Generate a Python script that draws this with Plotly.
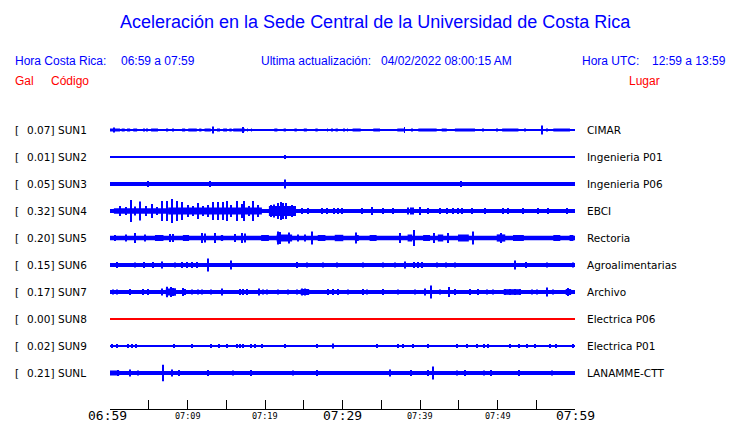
import plotly.graph_objects as go

# ---------------- data ----------------
stations = ["SUN1", "SUN2", "SUN3", "SUN4", "SUN5", "SUN6", "SUN7", "SUN8", "SUN9", "SUNL"]
places = ["CIMAR", "Ingenieria P01", "Ingenieria P06", "EBCI", "Rectoria",
          "Agroalimentarias", "Archivo", "Electrica P06", "Electrica P01", "LANAMME-CTT"]
peak_gal = [0.07, 0.01, 0.05, 0.32, 0.20, 0.15, 0.17, 0.00, 0.02, 0.21]
# steady background noise half-amplitude of each trace (display units)
noise_level = [0.6, 0.6, 2.0, 2.0, 2.3, 2.0, 1.9, 0.6, 0.6, 2.0]

# minutes after 06:59 (Costa Rica time)
tick_minutes = [0, 5, 10, 15, 20, 25, 30, 35, 40, 45, 50, 55, 60]
tick_labels = ["06:59", "", "07:09", "", "07:19", "", "07:29", "", "07:39", "", "07:49", "", "07:59"]
major_labels = ["06:59", "07:29", "07:59"]

# bursts: (start minute, end minute, half amplitude)
bursts_sun1 = [(0.0, 1.3, 1.5), (1.5, 1.9, 1.5), (2.2, 2.6, 1.5), (3.0, 3.5, 1.5), (4.3, 4.5, 1.5),
               (4.7, 4.8, 1.5), (5.3, 6.2, 1.5), (7.3, 7.5, 1.5), (8.1, 8.2, 1.5), (9.3, 9.7, 1.5),
               (10.1, 11.2, 1.5), (11.5, 11.8, 1.5), (12.2, 13.0, 1.5), (13.8, 14.2, 1.5),
               (14.6, 15.1, 1.5), (15.4, 15.7, 1.5), (15.9, 17.4, 1.5), (17.7, 17.8, 1.5),
               (18.2, 18.3, 1.5), (21.2, 21.6, 1.5), (22.4, 22.7, 1.5), (23.8, 24.1, 1.5),
               (25.0, 25.4, 1.5), (26.5, 26.8, 1.5), (28.0, 28.1, 1.5), (28.6, 28.7, 1.5),
               (29.1, 29.4, 1.5), (30.1, 30.2, 1.5), (30.6, 30.7, 1.5), (31.3, 32.35, 1.5),
               (33.97, 34.84, 1.5), (37.07, 38.06, 1.5), (38.9, 39.0, 1.5), (39.78, 42.15, 1.5),
               (42.8, 43.45, 1.5), (44.5, 47.1, 1.5), (48.1, 48.2, 1.5), (49.9, 50.0, 1.5),
               (50.6, 52.7, 1.5), (53.5, 53.6, 1.5), (56.3, 56.4, 1.5), (57.2, 59.35, 1.5)]
spikes_sun1 = [(0.5, 2.5), (13.33, 3.5), (17.2, 3.0), (38.0, 3.0), (55.7, 4.5)]

bursts_sun2 = []
spikes_sun2 = [(22.6, 2.0)]

bursts_sun3 = []
spikes_sun3 = [(4.86, 3.0), (12.95, 3.0), (22.6, 4.5), (45.3, 3.0)]

bursts_sun4 = [(0.5, 7.5, 2.8), (7.5, 19.6, 3.4), (20.5, 24.0, 5.0)]
spikes_sun4 = [(1.29, 5), (2.02, 4), (2.67, 11), (3.23, 4.5), (3.87, 9.5), (4.6, 5), (5.38, 7),
               (6.02, 4), (6.67, 10), (7.31, 10), (8.04, 12), (8.69, 10), (9.33, 9), (10.11, 6),
               (10.75, 5), (11.4, 8), (12.04, 5), (12.6, 6), (13.25, 9), (13.98, 9), (14.62, 9),
               (15.14, 10), (15.61, 6), (16.43, 10), (16.99, 7), (17.33, 10), (17.94, 5),
               (18.49, 10), (19.14, 6), (20.73, 6), (21.2, 6.5), (21.63, 8), (22.06, 9),
               (22.37, 8), (22.71, 8), (23.1, 5), (23.53, 6), (23.87, 4), (24.73, 3), (25.59, 3),
               (27.31, 3), (27.96, 3), (28.95, 3), (29.46, 3), (29.9, 3), (32.47, 3), (33.76, 4),
               (35.27, 3), (36.56, 3), (38.49, 3.5), (38.8, 3.5), (39.14, 3.5), (40.0, 4),
               (41.08, 3), (42.58, 3), (43.44, 3), (44.3, 3), (44.95, 3), (45.38, 3), (46.67, 3),
               (48.39, 3), (50.75, 3), (51.4, 3), (53.33, 3), (55.27, 3), (56.56, 3), (58.92, 3)]

bursts_sun5 = [(5.8, 6.9, 3.0), (9.4, 10.2, 3.0), (14.3, 14.6, 3.0), (19.5, 20.5, 3.0),
               (21.5, 23.5, 3.5), (26.8, 27.8, 3.0), (29.0, 30.1, 3.2), (31.6, 32.1, 3.0),
               (33.5, 34.4, 3.0), (38.4, 39.0, 3.5), (40.4, 41.3, 3.0), (42.3, 43.0, 3.5),
               (44.9, 46.3, 3.5), (49.9, 51.0, 3.6), (52.0, 53.4, 3.0), (57.2, 58.1, 3.0),
               (59.3, 59.8, 3.0)]
spikes_sun5 = [(0.65, 3), (2.02, 3.5), (3.23, 5), (4.52, 3.5), (7.74, 4), (8.17, 4), (11.83, 5),
               (12.26, 4.5), (13.55, 5), (16.13, 4), (16.99, 5), (17.42, 4.5), (21.7, 6.5),
               (21.94, 6), (23.1, 5.5), (24.3, 3.5), (25.16, 3.5), (26.02, 6.5), (31.8, 5.5),
               (37.42, 5), (39.23, 8), (41.81, 5), (43.66, 5), (46.88, 6.5), (50.5, 5)]

bursts_sun6 = []
spikes_sun6 = [(0.86, 3), (3.23, 2.5), (4.43, 3), (5.59, 3), (6.75, 3.5), (8.39, 2.5), (9.33, 3),
               (9.89, 3), (10.54, 3), (11.18, 3), (12.69, 6.5), (15.61, 4.5), (24.09, 3),
               (25.38, 2.5), (27.53, 2.5), (29.25, 2.5), (32.69, 2.5), (35.27, 2.5), (36.77, 2.5),
               (38.06, 3.5), (39.23, 3), (39.78, 3), (40.22, 3), (42.15, 2.5), (43.35, 2.5),
               (44.52, 2.5), (52.22, 4.5), (53.68, 3), (56.34, 2.5), (59.78, 2.5)]

bursts_sun7 = [(7.2, 8.5, 3.5), (24.6, 25.7, 3.0), (50.8, 53.0, 2.8), (58.8, 59.5, 3.0)]
spikes_sun7 = [(0.43, 2.5), (0.86, 2.5), (2.58, 3), (4.3, 3), (4.95, 3), (6.75, 3.5), (7.31, 5.3),
               (7.83, 5), (8.17, 4), (8.39, 3.5), (9.46, 4), (9.68, 3), (10.54, 2.5), (11.4, 2.5),
               (11.83, 2.5), (13.03, 2.5), (14.49, 3.5), (16.77, 3), (17.2, 3), (17.63, 3),
               (19.23, 3.5), (19.78, 2.5), (20.22, 2.5), (21.72, 2.5), (23.01, 2.5), (24.09, 2.5),
               (24.73, 3.5), (25.16, 3.5), (25.59, 3), (28.09, 3), (28.82, 3), (29.46, 3),
               (30.75, 2.5), (32.69, 3), (33.12, 2.5), (35.27, 3), (37.2, 2.5), (39.35, 2.5),
               (40.65, 3.5), (41.38, 6.5), (42.58, 2.5), (43.78, 5), (44.52, 3), (46.45, 3),
               (47.53, 3), (48.6, 2.5), (49.46, 2.5), (50.97, 3), (51.61, 3), (52.26, 3), (52.9, 3),
               (54.41, 2.5), (55.05, 2.5), (56.34, 4.5), (57.2, 2.5), (59.14, 4)]

bursts_sun8 = []
spikes_sun8 = []

bursts_sun9 = []
spikes_sun9 = [(0.22, 2), (0.95, 2), (2.37, 2), (2.88, 2), (3.31, 2), (8.3, 2), (10.54, 2),
               (12.99, 2), (14.11, 2), (15.05, 2), (16.43, 2), (16.77, 2), (17.2, 2), (18.15, 2),
               (18.71, 2), (19.57, 2), (22.58, 2), (26.67, 2), (28.82, 2.5), (34.41, 2), (37.2, 2),
               (37.85, 2), (39.05, 2), (41.08, 2), (44.82, 2), (46.02, 2), (47.31, 2), (48.26, 2),
               (48.82, 2), (51.61, 2), (52.82, 2), (53.85, 2), (54.84, 2), (56.77, 2), (57.55, 2),
               (59.78, 2)]

bursts_sunl = [(0.0, 1.2, 2.5)]
spikes_sunl = [(0.99, 3), (2.58, 3.5), (3.57, 2.5), (6.88, 8.3), (8.04, 3.5), (8.9, 3), (12.69, 3),
               (15.91, 2.5), (18.15, 3), (23.66, 2.5), (26.67, 3), (36.13, 3.5), (38.8, 3),
               (40.99, 3), (41.68, 6.5), (44.73, 2.5), (45.81, 3), (48.26, 2.5), (49.12, 3),
               (52.77, 3), (56.99, 2.5)]

all_bursts = [bursts_sun1, bursts_sun2, bursts_sun3, bursts_sun4, bursts_sun5,
              bursts_sun6, bursts_sun7, bursts_sun8, bursts_sun9, bursts_sunl]
all_spikes = [spikes_sun1, spikes_sun2, spikes_sun3, spikes_sun4, spikes_sun5,
              spikes_sun6, spikes_sun7, spikes_sun8, spikes_sun9, spikes_sunl]

# ---------------- figure ----------------
OFF = 8                      # page margin of the html body
W, H = 740 - OFF, 423 - OFF  # figure size so that it fits the window
ML, MT = 110 - OFF, 100 - OFF
MR = W - (575 - OFF)
MB = H - (409 - OFF)
PW, PH = W - ML - MR, H - MT - MB
SLOT = 27.0
FIRST_Y = 130                # page y of the first trace
SPIKE_W = 0.13
BLUE = "#0000ff"
RED = "#ff0000"
TOTAL = 60
PAD = 2                      # annotation inner padding


def px(xpage):
    return (xpage - OFF - ML) / PW


def py(ypage):
    return (H - MB - (ypage - OFF)) / PH


fig = go.Figure()
for i, st in enumerate(stations):
    c = -SLOT * i
    xs, ws, bs, hs = [TOTAL / 2], [TOTAL], [c - noise_level[i]], [2 * noise_level[i]]
    for (t0, t1, a) in all_bursts[i]:
        xs.append((t0 + t1) / 2); ws.append(t1 - t0); bs.append(c - a); hs.append(2 * a)
    for (t, a) in all_spikes[i]:
        xs.append(t); ws.append(SPIKE_W); bs.append(c - a); hs.append(2 * a)
    color = RED if st == "SUN8" else BLUE
    fig.add_trace(go.Bar(x=xs, y=hs, base=bs, width=ws, marker=dict(color=color, line_width=0),
                         hoverinfo="skip", showlegend=False))

ann = []
head_font = dict(family="Liberation Sans, Arial", size=12, color=BLUE)
ann.append(dict(text="Aceleración en la Sede Central de la Universidad de Costa Rica",
                x=px(375), y=py(22), xanchor="center", yanchor="middle",
                font=dict(family="Liberation Sans, Arial", size=18, color=BLUE)))
for txt, xp in [("Hora Costa Rica:", 15), ("06:59 a 07:59", 121),
                ("Ultima actualización:", 261), ("04/02/2022 08:00:15 AM", 381),
                ("Hora UTC:", 582), ("12:59 a 13:59", 652)]:
    ann.append(dict(text=txt, x=px(xp - PAD), y=py(61), xanchor="left", yanchor="middle",
                    font=head_font))
red_font = dict(family="Liberation Sans, Arial", size=12, color=RED)
for txt, xp in [("Gal", 15), ("Código", 50.5), ("Lugar", 629)]:
    ann.append(dict(text=txt, x=px(xp - PAD), y=py(81), xanchor="left", yanchor="middle",
                    font=red_font))

lab_font = dict(family="DejaVu Sans", size=10.5, color="black")
for i, st in enumerate(stations):
    yc = -SLOT * i
    ann.append(dict(text="[", x=px(15 - PAD), y=yc, yref="y", xanchor="left", yanchor="middle",
                    font=lab_font))
    ann.append(dict(text=f"{peak_gal[i]:.2f}]", x=px(55.5), y=yc, yref="y", xanchor="right",
                    yanchor="middle", font=lab_font))
    ann.append(dict(text=st, x=px(58 - PAD), y=yc, yref="y", xanchor="left", yanchor="middle",
                    font=lab_font))
    ann.append(dict(text=places[i], x=px(587 - PAD), y=yc, yref="y", xanchor="left",
                    yanchor="middle", font=lab_font))

for t, lab in zip(tick_minutes, tick_labels):
    if not lab:
        continue
    big = lab in major_labels
    ann.append(dict(text=lab, x=t, xref="x", y=py(415.5), xanchor="center", yanchor="middle",
                    xshift=-3 if t == tick_minutes[0] else 0,
                    font=dict(family="DejaVu Sans Mono", size=13 if big else 8.5, color="black")))

for a in ann:
    a.setdefault("xref", "paper")
    a.setdefault("yref", "paper")
    a["showarrow"] = False

y_top = FIRST_Y - (MT + OFF)           # data units above first trace (1 unit = 1 px)
y_bottom = -(H - MB + OFF - FIRST_Y)   # data units below first trace

fig.update_layout(
    width=W, height=H, margin=dict(l=ML, r=MR, t=MT, b=MB, autoexpand=False),
    paper_bgcolor="white", plot_bgcolor="white", barmode="overlay", showlegend=False,
    annotations=ann,
    xaxis=dict(range=[0, TOTAL], showgrid=False, zeroline=False, showline=True, linecolor="black",
               linewidth=1, ticks="inside", ticklen=9, tickcolor="black", tickwidth=1,
               tickvals=tick_minutes, showticklabels=False, fixedrange=True),
    yaxis=dict(range=[y_bottom, y_top], visible=False, fixedrange=True),
)
fig.write_html("out.html")
